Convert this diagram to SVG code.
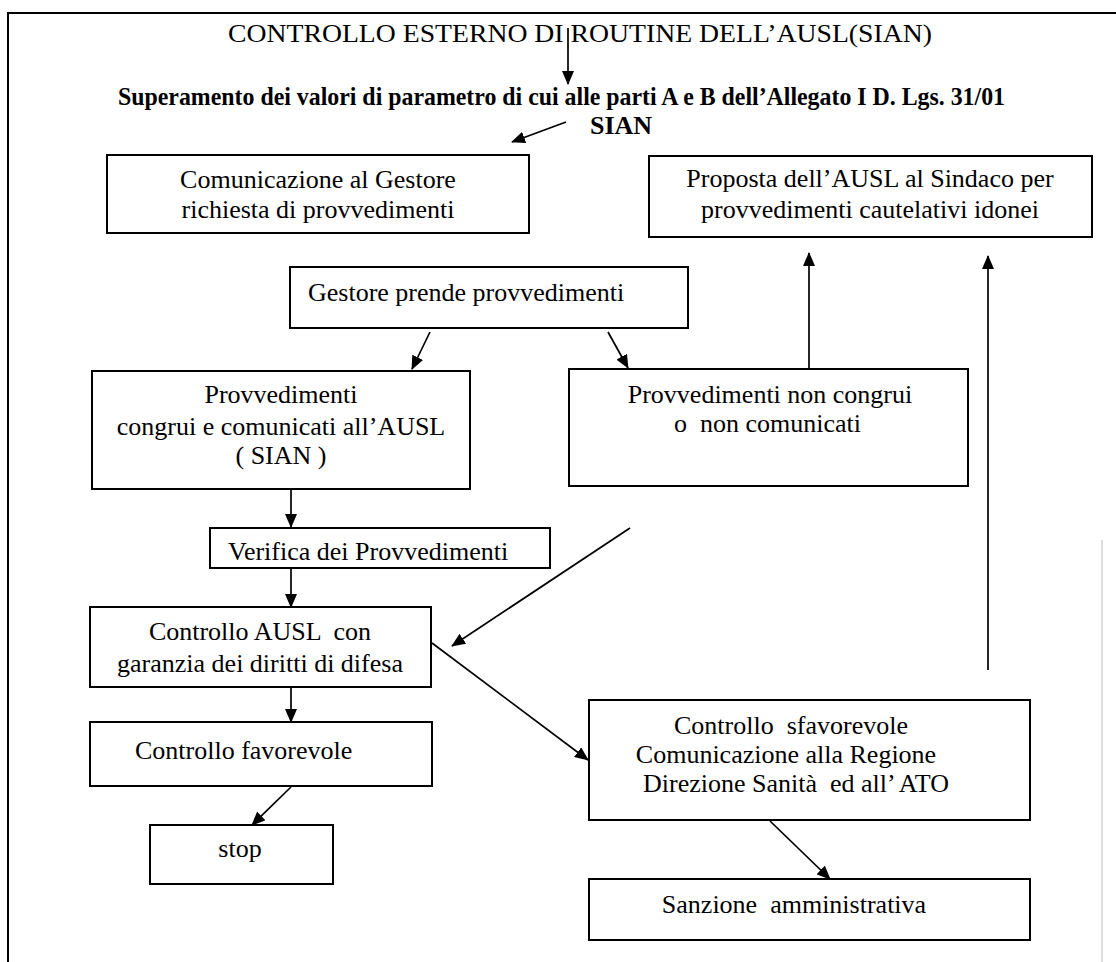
<svg xmlns="http://www.w3.org/2000/svg" width="1116" height="962" viewBox="0 0 1116 962">
<defs>
<marker id="ah" markerUnits="userSpaceOnUse" markerWidth="14" markerHeight="12" refX="13" refY="6" orient="auto">
<path d="M0,0 L14,6 L0,12 z" fill="#000"/>
</marker>
<style>
.box{fill:#fff;stroke:#000;stroke-width:2}
.t{font-family:"Liberation Serif","Times New Roman",serif;font-size:26px;fill:#000}
.c{text-anchor:middle}
.b{font-weight:bold}
.cn line{stroke:#000;stroke-width:1.7;marker-end:url(#ah)}
.frame{stroke:#000;stroke-width:2;fill:none}
</style>
</defs>
<rect width="1116" height="962" fill="#fff"/>
<g id="frame">
<path class="frame" d="M8,962 L8,13 L1116,13"/>
<line x1="1102" y1="540" x2="1102" y2="962" stroke="#bbb" stroke-width="1"/>
</g>
<g id="title">
<text class="t" x="228" y="42" font-size="27" textLength="704" lengthAdjust="spacingAndGlyphs">CONTROLLO ESTERNO DI ROUTINE DELL’AUSL(SIAN)</text>
</g>
<g id="superamento">
<text class="t b" x="118" y="105" font-size="22" textLength="887" lengthAdjust="spacingAndGlyphs">Superamento dei valori di parametro di cui alle parti A e B dell’Allegato I D. Lgs. 31/01</text>
<text class="t b" x="590" y="134" font-size="22">SIAN</text>
</g>
<g id="comunicazione">
<rect class="box" x="107" y="155" width="422" height="78"/>
<text class="t c" x="318" y="188">Comunicazione al Gestore</text>
<text class="t c" x="318" y="218">richiesta di provvedimenti</text>
</g>
<g id="proposta">
<rect class="box" x="649" y="156" width="443" height="81"/>
<text class="t c" x="870" y="187">Proposta dell’AUSL al Sindaco per</text>
<text class="t c" x="870" y="218">provvedimenti cautelativi idonei</text>
</g>
<g id="gestore">
<rect class="box" x="290" y="267" width="398" height="61"/>
<text class="t" x="308" y="301">Gestore prende provvedimenti</text>
</g>
<g id="congrui">
<rect class="box" x="92" y="371" width="378" height="118"/>
<text class="t c" x="281" y="403">Provvedimenti</text>
<text class="t c" x="281" y="435">congrui e comunicati all’AUSL</text>
<text class="t c" x="281" y="464">( SIAN )</text>
</g>
<g id="noncongrui">
<rect class="box" x="569" y="369" width="399" height="117"/>
<text class="t c" x="770" y="403">Provvedimenti non congrui</text>
<text class="t" x="674" y="432" xml:space="preserve">o  non comunicati</text>
</g>
<g id="verifica">
<rect class="box" x="210" y="528" width="340" height="40"/>
<text class="t" x="228" y="560">Verifica dei Provvedimenti</text>
</g>
<g id="controllo">
<rect class="box" x="90" y="607" width="341" height="80"/>
<text class="t c" x="260" y="640" xml:space="preserve">Controllo AUSL  con</text>
<text class="t c" x="260" y="672">garanzia dei diritti di difesa</text>
</g>
<g id="favorevole">
<rect class="box" x="90" y="722" width="342" height="64"/>
<text class="t" x="135" y="759">Controllo favorevole</text>
</g>
<g id="stop">
<rect class="box" x="150" y="825" width="183" height="59"/>
<text class="t c" x="240" y="857">stop</text>
</g>
<g id="sfavorevole">
<rect class="box" x="589" y="700" width="441" height="120"/>
<text class="t c" x="791" y="734" xml:space="preserve">Controllo  sfavorevole</text>
<text class="t c" x="786" y="763">Comunicazione alla Regione</text>
<text class="t c" x="796" y="792" xml:space="preserve">Direzione Sanità  ed all’ ATO</text>
</g>
<g id="sanzione">
<rect class="box" x="589" y="879" width="441" height="61"/>
<text class="t c" x="794" y="913" xml:space="preserve">Sanzione  amministrativa</text>
</g>
<g id="connectors" class="cn">
<line x1="568" y1="28" x2="568" y2="84"/>
<line x1="566" y1="122" x2="512" y2="142"/>
<line x1="430" y1="332" x2="412" y2="369"/>
<line x1="608" y1="332" x2="628" y2="368"/>
<line x1="809" y1="369" x2="809" y2="253"/>
<line x1="988" y1="670" x2="988" y2="256"/>
<line x1="291" y1="489" x2="291" y2="527"/>
<line x1="291" y1="568" x2="291" y2="607"/>
<line x1="630" y1="528" x2="452" y2="646"/>
<line x1="291" y1="687" x2="291" y2="722"/>
<line x1="291" y1="787" x2="252" y2="825"/>
<line x1="432" y1="643" x2="588" y2="760"/>
<line x1="770" y1="821" x2="830" y2="879"/>
</g>
</svg>
